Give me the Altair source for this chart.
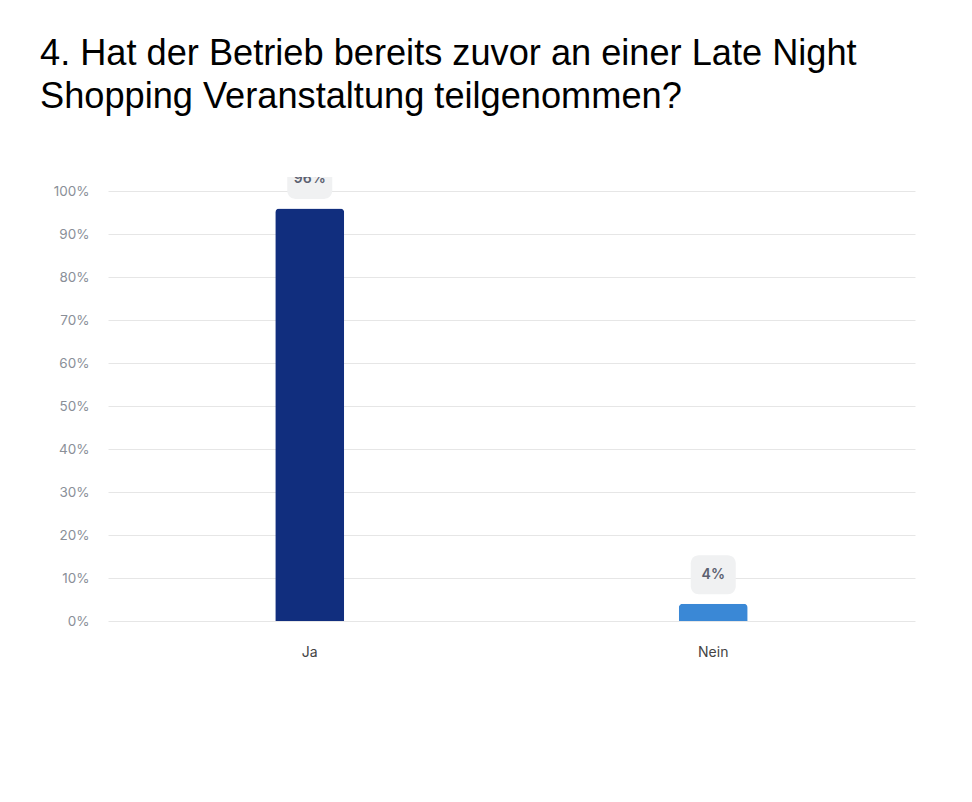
import altair as alt
import pandas as pd

categories = ["Ja", "Nein"]
values = [96, 4]
labels = ["96%", "4%"]
colors = ["#112e7e", "#3a88d6"]

df = pd.DataFrame({"cat": categories, "val": values, "label": labels, "color": colors})

x = alt.X("cat:N", sort=categories, title=None,
          scale=alt.Scale(paddingInner=0, paddingOuter=0),
          axis=alt.Axis(labelAngle=0, labelFontSize=14, labelColor="#444444",
                        labelFont="Inter", labelPadding=24, ticks=False, domain=False, grid=False))
y = alt.Y("val:Q", title=None,
          scale=alt.Scale(domain=[0, 103.3], nice=False, zero=True),
          axis=alt.Axis(values=list(range(0, 101, 10)), labelExpr="datum.value + '%'",
                        labelFontSize=13.5, labelColor="#8a8f98", labelFont="Inter",
                        labelPadding=19, ticks=False, domain=False,
                        gridColor="#e6e6e6", gridWidth=1))

bars = alt.Chart(df).mark_bar(width=69, cornerRadiusTopLeft=4, cornerRadiusTopRight=4).encode(
    x=x, y=y, color=alt.Color("color:N", scale=None)
)

r = 0.356
h = 0.867
path = (f"M {-1+r} {-h} L {1-r} {-h} A {r} {r} 0 0 1 1 {-h+r} L 1 {h-r} "
        f"A {r} {r} 0 0 1 {1-r} {h} L {-1+r} {h} A {r} {r} 0 0 1 -1 {h-r} "
        f"L -1 {-h+r} A {r} {r} 0 0 1 {-1+r} {-h} Z")

boxes = alt.Chart(df).mark_point(shape=path, size=2025, filled=True, fill="#f0f1f2",
                                 opacity=1, strokeWidth=0, yOffset=-29, clip=True).encode(
    x=alt.X("cat:N", sort=categories), y="val:Q"
)

texts = alt.Chart(df).mark_text(yOffset=-29, fontSize=14, fontWeight=600, color="#5b6070",
                                font="Inter", baseline="middle", clip=True).encode(
    x=alt.X("cat:N", sort=categories), y="val:Q", text="label:N"
)

chart = alt.layer(bars, boxes, texts).properties(
    width=807, height=444,
    title=alt.TitleParams(
        ["4. Hat der Betrieb bereits zuvor an einer Late Night",
         "Shopping Veranstaltung teilgenommen?"],
        anchor="start", frame="group", fontSize=36.2, font="Liberation Sans",
        fontWeight="normal", color="#000000", lineHeight=43, dx=-68, offset=62),
    autosize=alt.AutoSizeParams(type="none"),
    padding={"left": 100, "top": 169, "right": 10, "bottom": 100},
    background="white",
).configure_view(stroke=None)

chart.save("out.html", embed_options={"renderer": "svg", "actions": False})
